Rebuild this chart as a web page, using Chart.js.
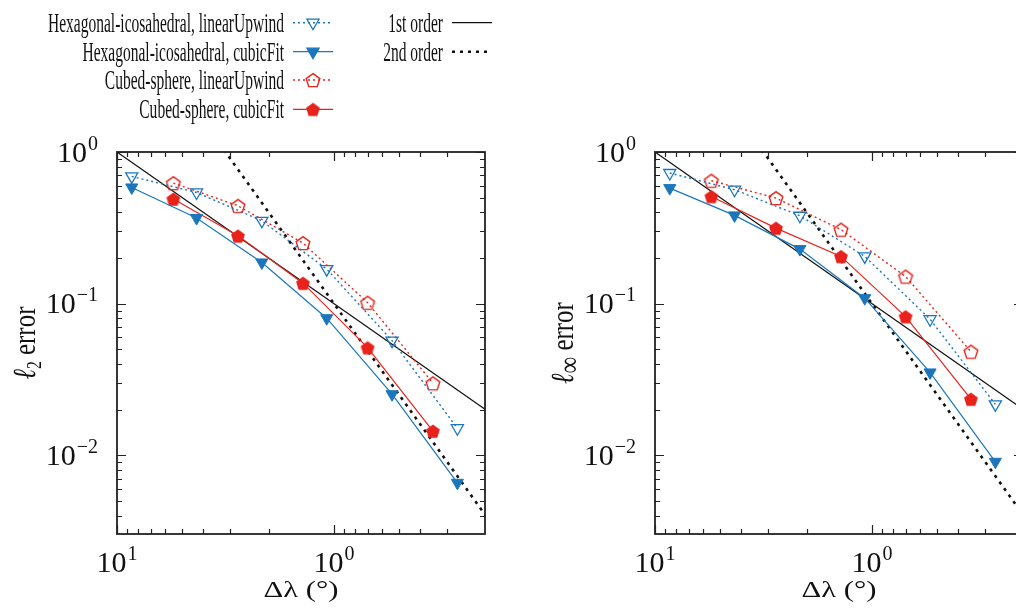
<!DOCTYPE html>
<html>
<head>
<meta charset="UTF-8">
<title>Convergence: l2 and l-infinity error</title>
<script src="https://cdn.jsdelivr.net/npm/chart.js"></script>
<style>
  html, body { margin: 0; padding: 0; background: #fff; overflow: hidden; }
  #wrap { position: relative; width: 1016px; height: 608px; overflow: hidden; }
  #leftChart { position: absolute; left: 0; top: 0; }
  #rightChart { position: absolute; left: 540px; top: 0; }
</style>
</head>
<body>
<div id="wrap">
  <canvas id="leftChart" width="540" height="608"></canvas>
  <canvas id="rightChart" width="500" height="608"></canvas>
</div>
<script>
// grid spacing in degrees
const dxHex = [8.55, 4.3, 2.15, 1.08, 0.54, 0.27];
const dxCubed = [5.5, 2.77, 1.39, 0.70, 0.35];

// l2 error
const l2HexLinear = [0.690, 0.541, 0.352, 0.169, 0.0571, 0.0151];
const l2HexCubic = [0.584, 0.367, 0.187, 0.0802, 0.0253, 0.00659];
const l2CubedLinear = [0.624, 0.442, 0.251, 0.1016, 0.0299];
const l2CubedCubic = [0.490, 0.280, 0.1365, 0.0513, 0.01446];

// l-infinity error
const linfHexLinear = [0.727, 0.564, 0.380, 0.205, 0.0790, 0.0217];
const linfHexCubic = [0.578, 0.382, 0.229, 0.1087, 0.0352, 0.00907];
const linfCubedLinear = [0.647, 0.497, 0.308, 0.151, 0.0483];
const linfCubedCubic = [0.509, 0.315, 0.205, 0.0822, 0.0235];

// reference slopes (end points)
const refDx = [10, 0.2];
const firstOrder = [1, 0.02];
const secondOrder = [10, 0.004];

const seriesLabels = [
  'Hexagonal-icosahedral, linearUpwind',
  'Hexagonal-icosahedral, cubicFit',
  'Cubed-sphere, linearUpwind',
  'Cubed-sphere, cubicFit',
  '1st order',
  '2nd order'
];
const xMajor = [10, 1];
const yMajor = [1, 0.1, 0.01];

const BLUE = '#1b76bb';
const RED = '#e8231b';
const SERIF = '"Liberation Serif", "DejaVu Serif", serif';

function pentagon(color, filled, r) {
  const c = document.createElement('canvas');
  c.width = c.height = 20;
  const g = c.getContext('2d');
  g.beginPath();
  for (let i = 0; i < 5; i++) {
    const t = -Math.PI / 2 + i * 2 * Math.PI / 5;
    const px = 10 + r * Math.cos(t), py = 10.8 + r * Math.sin(t);
    if (i) g.lineTo(px, py); else g.moveTo(px, py);
  }
  g.closePath();
  if (filled) { g.fillStyle = color; g.fill(); }
  g.strokeStyle = color;
  g.lineWidth = 1.4;
  g.stroke();
  return c;
}
const pentOpen = pentagon(RED, false, 7.2);
const pentFull = pentagon(RED, true, 6.4);

function pts(xs, ys) {
  return xs.map((x, i) => ({ x: x, y: ys[i] }));
}

function makeDatasets(hexLin, hexCub, cubLin, cubCub) {
  return [
    { label: seriesLabels[0], data: pts(dxHex, hexLin), borderColor: BLUE, borderWidth: 1.4,
      borderDash: [2, 3], pointStyle: 'triangle', rotation: 180, pointRadius: 7,
      pointBorderWidth: 1.3, pointBackgroundColor: 'rgba(0,0,0,0)', pointBorderColor: BLUE },
    { label: seriesLabels[1], data: pts(dxHex, hexCub), borderColor: BLUE, borderWidth: 1.2,
      pointStyle: 'triangle', rotation: 180, pointRadius: 7,
      pointBorderWidth: 1, pointBackgroundColor: BLUE, pointBorderColor: BLUE },
    { label: seriesLabels[2], data: pts(dxCubed, cubLin), borderColor: RED, borderWidth: 1.4,
      borderDash: [2, 3], pointStyle: pentOpen, pointRadius: 7 },
    { label: seriesLabels[3], data: pts(dxCubed, cubCub), borderColor: RED, borderWidth: 1.2,
      pointStyle: pentFull, pointRadius: 7 },
    { label: seriesLabels[4], data: pts(refDx, firstOrder), borderColor: '#111', borderWidth: 1.2,
      pointRadius: 0 },
    { label: seriesLabels[5], data: pts(refDx, secondOrder), borderColor: '#111', borderWidth: 2.6,
      borderDash: [3, 5], pointRadius: 0 }
  ];
}

function drawPow(ctx, exp, x, y, align) {
  // "10" with a superscript exponent; x is the anchor, y the baseline
  ctx.font = '30px ' + SERIF;
  const wBase = ctx.measureText('10').width;
  ctx.font = '20px ' + SERIF;
  const wExp = ctx.measureText(exp).width;
  const total = wBase + wExp + 1;
  let x0 = align === 'right' ? x - total : x - total / 2;
  ctx.textAlign = 'left';
  ctx.font = '30px ' + SERIF;
  ctx.fillText('10', x0, y);
  ctx.font = '20px ' + SERIF;
  ctx.fillText(exp, x0 + wBase + 1, y - 12);
}

const paperAxes = {
  id: 'paperAxes',
  afterDatasetsDraw(chart, args, opts) {
    const ctx = chart.ctx;
    const a = chart.chartArea;
    const xs = chart.scales.x, ys = chart.scales.y;
    ctx.save();
    ctx.fillStyle = '#111';
    ctx.strokeStyle = '#222';

    // ticks on all four sides, pointing inward
    ctx.lineWidth = 1.2;
    for (let d = -1; d <= 1; d++) {
      for (let m = 1; m <= 9; m++) {
        const v = m * Math.pow(10, d);
        const len = m === 1 ? 9 : 5;
        if (v >= xs.min && v <= xs.max) {
          const px = Math.round(xs.getPixelForValue(v)) + 0.5;
          ctx.beginPath();
          ctx.moveTo(px, a.bottom); ctx.lineTo(px, a.bottom - len);
          ctx.moveTo(px, a.top); ctx.lineTo(px, a.top + len);
          ctx.stroke();
        }
      }
    }
    for (let d = -3; d <= 0; d++) {
      for (let m = 1; m <= 9; m++) {
        const v = m * Math.pow(10, d);
        const len = m === 1 ? 9 : 5;
        if (v >= ys.min && v <= ys.max) {
          const py = Math.round(ys.getPixelForValue(v)) + 0.5;
          ctx.beginPath();
          ctx.moveTo(a.left, py); ctx.lineTo(a.left + len, py);
          ctx.moveTo(a.right, py); ctx.lineTo(a.right - len, py);
          ctx.stroke();
        }
      }
    }

    // frame
    ctx.lineWidth = 1.8;
    ctx.strokeRect(a.left, a.top, a.right - a.left, a.bottom - a.top);

    // tick labels
    xMajor.forEach(v => {
      const exp = String(Math.round(Math.log10(v))).replace('-', '\u2212');
      drawPow(ctx, exp, xs.getPixelForValue(v), a.bottom + 38, 'center');
    });
    yMajor.forEach(v => {
      const exp = String(Math.round(Math.log10(v))).replace('-', '\u2212');
      drawPow(ctx, exp, a.left - 19, ys.getPixelForValue(v) + 9.5, 'right');
    });

    // x title
    ctx.font = '24px ' + SERIF;
    const xt = '\u0394\u03bb (\u00b0)';
    const sx = 75 / ctx.measureText(xt).width;
    ctx.save();
    ctx.translate((a.left + a.right) / 2, 597);
    ctx.scale(sx, 1);
    ctx.textAlign = 'center';
    ctx.fillText(xt, 0, 0);
    ctx.restore();

    // y title, rotated
    const sub = opts.sub;
    const subFont = opts.subSize + 'px ' + SERIF;
    ctx.font = 'italic 32px ' + SERIF;
    const wl = ctx.measureText('\u2113').width;
    ctx.font = subFont;
    const ws = ctx.measureText(sub).width;
    ctx.font = '32px ' + SERIF;
    const we = ctx.measureText(' error').width;
    const sy = opts.titleScale;
    const total = (wl + ws + we) * sy;
    ctx.save();
    ctx.translate(a.left - 82, (a.top + a.bottom) / 2);
    ctx.rotate(-Math.PI / 2);
    ctx.scale(sy, 1);
    ctx.textAlign = 'left';
    let tx = -total / 2 / sy;
    ctx.font = 'italic 32px ' + SERIF;
    ctx.fillText('\u2113', tx, 0);
    tx += wl;
    ctx.font = subFont;
    ctx.fillText(sub, tx, 6);
    tx += ws;
    ctx.font = '32px ' + SERIF;
    ctx.fillText(' error', tx, 0);
    ctx.restore();

    ctx.restore();
  }
};

function legendMarker(ctx, kind, x, y) {
  ctx.save();
  ctx.lineWidth = 1.3;
  if (kind === 'triOpen' || kind === 'triFull') {
    const r = 7;
    ctx.beginPath();
    ctx.moveTo(x, y + r);
    ctx.lineTo(x - r * 0.866, y - r / 2);
    ctx.lineTo(x + r * 0.866, y - r / 2);
    ctx.closePath();
    ctx.strokeStyle = BLUE;
    if (kind === 'triFull') { ctx.fillStyle = BLUE; ctx.fill(); }
    ctx.stroke();
  } else if (kind === 'pentOpen') {
    ctx.drawImage(pentOpen, x - 10, y - 10);
  } else if (kind === 'pentFull') {
    ctx.drawImage(pentFull, x - 10, y - 10);
  }
  ctx.restore();
}

const paperLegend = {
  id: 'paperLegend',
  afterDraw(chart) {
    const ctx = chart.ctx;
    const ds = chart.data.datasets;
    const rows = [
      { i: 0, x: 284, y: 22.7, mk: 'triOpen' },
      { i: 1, x: 284, y: 51.7, mk: 'triFull' },
      { i: 2, x: 284, y: 80, mk: 'pentOpen' },
      { i: 3, x: 284, y: 109.3, mk: 'pentFull' },
      { i: 4, x: 443, y: 22.7, mk: null },
      { i: 5, x: 443, y: 51.7, mk: null }
    ];
    ctx.save();
    ctx.font = '28px ' + SERIF;
    const sc = 236 / ctx.measureText(seriesLabels[0]).width;
    rows.forEach(r => {
      const d = ds[r.i];
      ctx.save();
      ctx.translate(r.x, r.y + 9);
      ctx.scale(sc, 1);
      ctx.textAlign = 'right';
      ctx.fillStyle = '#111';
      ctx.fillText(d.label, 0, 0);
      ctx.restore();
      const x0 = r.x + 9, x1 = r.x + 49;
      ctx.save();
      ctx.strokeStyle = d.borderColor;
      ctx.lineWidth = d.borderWidth;
      ctx.setLineDash(d.borderDash || []);
      ctx.beginPath();
      ctx.moveTo(x0, r.y); ctx.lineTo(x1, r.y);
      ctx.stroke();
      ctx.restore();
      if (r.mk) legendMarker(ctx, r.mk, (x0 + x1) / 2, r.y);
    });
    ctx.restore();
  }
};

function makeChart(id, datasets, pad, sub, subSize, withLegend) {
  return new Chart(document.getElementById(id), {
    type: 'scatter',
    data: { datasets: datasets.map(d => Object.assign({ showLine: true, fill: false, tension: 0 }, d)) },
    options: {
      responsive: false,
      animation: false,
      events: [],
      layout: { padding: pad },
      plugins: {
        legend: { display: false },
        tooltip: { enabled: false },
        paperAxes: { sub: sub, subSize: subSize, titleScale: 0.78 }
      },
      scales: {
        x: { type: 'logarithmic', reverse: true, min: 0.2014, max: 10, display: false },
        y: { type: 'logarithmic', min: 0.00303, max: 1, display: false }
      }
    },
    plugins: withLegend ? [paperAxes, paperLegend] : [paperAxes]
  });
}

makeChart('leftChart',
  makeDatasets(l2HexLinear, l2HexCubic, l2CubedLinear, l2CubedCubic),
  { left: 117, right: 55, top: 152, bottom: 74 }, '2', 20, true);

makeChart('rightChart',
  makeDatasets(linfHexLinear, linfHexCubic, linfCubedLinear, linfCubedCubic),
  { left: 115, right: 17, top: 152, bottom: 74 }, '\u221e', 30, false);
</script>
</body>
</html>
